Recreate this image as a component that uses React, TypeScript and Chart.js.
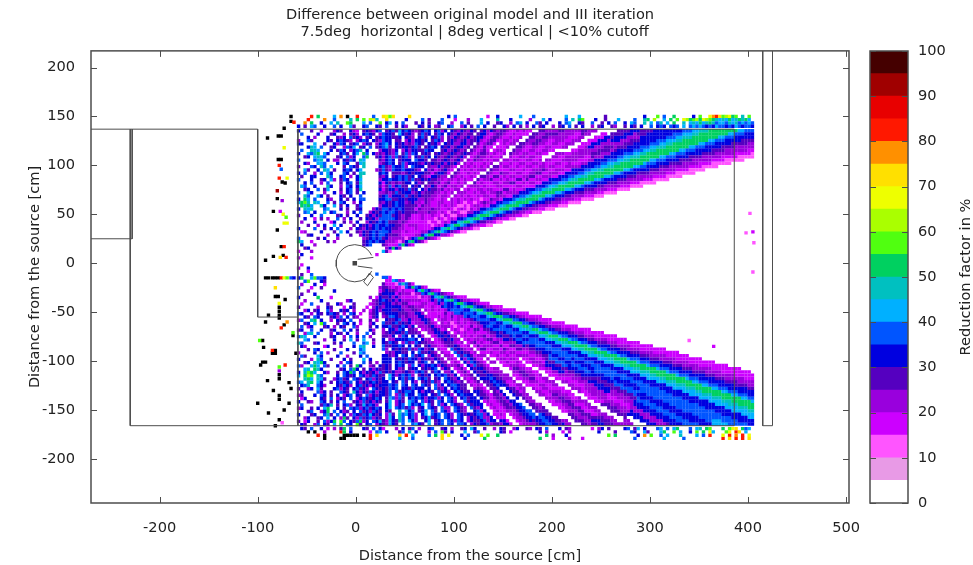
import React, { useEffect, useRef } from "react";
import { Chart, registerables } from "chart.js";

Chart.register(...registerables);

const FONT = "'DejaVu Sans', sans-serif";
const FONT_SIZE = 14.6;
const INK = "#222222";
const FRAME = "#4d4d4d";

// Reduction-factor bands, one letter per 5 % band, 5 % upward
const bandLetters = "abcdefghijklmnopqrs";
const bandColors = ["#e89ae6", "#ff55ff", "#cc00ff", "#9900dd", "#5500c0", "#0000e0", "#0055ff", "#00b0ff", "#00c0c0", "#00d060", "#50ff10", "#aaff00", "#eeff00", "#ffe000", "#ff9000", "#ff1800", "#e80000", "#a00000", "#450000"];
const overflowColor = "#000000"; // letter z
const colorbarTicks = [0, 10, 20, 30, 40, 50, 60, 70, 80, 90, 100];

// Clean beam bands: limits as |dy|/dx from each apex, and their letters
const upperApex = [15, 7];
const upperBeamLimits = [0.258, 0.272, 0.283, 0.3, 0.312, 0.328, 0.336, 0.344, 0.372, 0.382, 0.392, 0.405, 0.43];
const upperBeamLetters = "bcdefghjihgf";
const lowerApex = [15, -9];
const lowerBeamLimits = [0.262, 0.285, 0.3, 0.31, 0.325, 0.335, 0.34, 0.36, 0.37, 0.385, 0.405, 0.425];
const lowerBeamLetters = "cdefghjihfg";

// Fans around each apex: radius limits (cm) and one string per radius ring, one letter per degree from 23 deg
const fanRadii = [16, 32, 48, 64, 80, 96, 112, 128, 144, 160, 176, 200, 224, 248, 272, 300, 340, 380, 430];
const upperFan = [
  "cbccdcccdc dcdcddeded efefefefff fefgfgfgfg gfgfgffgfg fgfgfgfgfg",
  "cdcbccdcdc cdcdcdedcd dedededefe fefefgfefg fgfgfgfgfg gfgffgfgff fgdfgfefgf",
  "dcdcbcccdc cdcdcdcdcd dcdededede fefefgfefg fgfgfefegf fgfdfefgff f.fgdfefgf",
  "cdcbcdcbcc dcdcedcdcd dedcdedefe fefdefgfef gfefgdfefd fgeefdcfgf f.dfgfedgf",
  "cdcbcdbcdc cdcdcdcdcd cdedefedef .efdefe.gf efgefdgefe feg.dfedge fhf.efgefg",
  "cdbcdcbcdc dcd.cdcdcd edcdedefef cedef.fdfe fgf.fdfgfe e.gfdgeffd fgfdfh.egf",
  "dcdcbcdcdc cdc.dcdcdc de.cdefedf edefe.fefg e.efgfdefd f.efe.efhf g.efgh",
  "cdecdcdcdc dce.cdcdcd cd.dfedefe dfef.dfgef .fegfe.def egfh.egdfe f.gh",
  "cdcecdcdce cde.dcdcde dcde.edfed efdef.fdgf e.dfgfehfe dfe.fgfhef .e",
  "dcdcecdcdc dcd.dcdc.c edcdfe.efd ef.edfefdf egfe.fgdfe f.g",
  "cdcedcdcdc dcde.dcdcde def.edfefd efdfe",
  "cdcdcd.cdc dede.cdefd edfedfe",
  "dcddc.dcdd edfe.defed fefd",
  "dedfc.dedf efdefd",
  "edfe.cdefe fed",
  "fefefe",
  "fefe",
  "fe",
];
const lowerFan = [
  "cbcbcccdcd cddcdedede ededefefef fefefgfefe gfgfefdfef fgfdfgfefg",
  "cbcdccdcdc dcdecdcdef fededefefe fdefgfefgf efgfefdgfe dfegfdfefg",
  "dcdcbcdcdc dcdcdcefef edcdcdefef dedefgfefg fefgefegfe f.gfdfegfd",
  "dfdcecdcdc cdc.cdefef fdcdcd.cdf edefe.gfef gfdf.fefdf dge.eefgfe",
  "fgfdcecdcd dcd.dcdefe fdcd.d.def e.fegfd.ef g.efegf.ef fd.efdf.fd",
  "gfgdcdcdcb cdc.ddfefe edc.cd.dfe fde.egfdef .fgfde.feg dfd.fehf.e f.gf.fdfdf",
  "gfedcecdcd cdc.dcdefe g.cdcd.def d.fgfe.feg feg.dfg.ef gf.egf.gfe f.fgdf.hfe",
  "fgfedcedcd cec.dcefgd f.cedc.fde fgf.fdeg.e f.fdfg.fgf h.egfdg.he f.efd.fhef",
  "gfefdcecdc dc.d.cdefe f.edcd.eef gf.dfg.fdg .efg.hfe.d gfh.gi.efh d.ehf.egfc",
  "fgfdecdcdc dc..ddefgf e.cdef.ffe g.defg.dfg .gfe.hf.ef hg.ehfg.ig f.hfg.fdfe",
  "gfedcdc.cd edc.dcef.f dedcdc.fdg fefd.fg.fh g.hfe.gf.f ig.fgf.fef",
  "gfgefdc.dc dcd..de.gf edc.cfdefg",
  "fgfedcd.cd edc..efgfe dfg",
  "gfefddc.dc ede.dfg",
  "fgedcde.de fed",
  "gfgfdf.dfe",
  "gfgfeg",
  "hgjh",
];

// Speckled block left of the fans: columns of 3.33 cm from x = -60, rows of 3.33 cm
const leftTopY = 135.3;
const leftUpper = [
  "f...e..c...dfe..fdc.efedfg",
  ".g....f...ef..d.efd.fgfe.d",
  "...f.d...f..edf.gefd.ef.ef",
  "d..ge....fe.fgfed.dfgf.fed",
  "ff...h..e..fdgf.efg.dfe.df",
  "...fih.g..ef..dgfh.ef.g.ef",
  ".g..iih...f.egf.dfgi.f...d",
  "f..hgij.hf...fge.fh.jg.fde",
  "..ef.hihg...ef.gdf..gj..ef",
  "g....ghi.f.dd.fegf.ih....e",
  "..fd..hhg...f.gf..ehi....d",
  "e...gf.ig.h...e.gfe.i....f",
  "..he..f.ih.e..fgf.fh....de",
  "f.g..d.g.hf...gf.e.ii....f",
  ".e..ff...ig..fg.d.fi.....e",
  "g...f..ef.hd.egf..fh.....d",
  "..f.g..d.g...e.fg.ei.....f",
  ".hg..f...if..d.gf.fh.....e",
  "..ef..g.eh...e.fg.ei.....f",
  "g..hf...d..f.d.fg.e.f....d",
  "..ig..hf.e...fe.f..g.....e",
  "f.jh.g...fd..f.e.f.gg....f",
  "hjki.ih..g.e.gf..d.f.....e",
  ".jijh..if..h.e.f..eg.....d",
  "f.ihi...gh...f.e..ef...dfe",
  "..gh.f..h.fg...d.f.g..dfef",
  "e...f..g....ef.e..f..efdfe",
  "..f..c.e.d..g.d.f..e.fefdg",
  ".d...f....cf..e.d.f..dfefg",
  "...e..d.f..h.f...e.fefdfgf",
  "f....g..e.f.g...d.fedfefgf",
  ".cd....f...e.h.f..edfefgfg",
  "...ef....d..f...e..dfefgfg",
  "g.....e.f...d.......defgfg",
  "jh..c....e.d........efgfgf",
  ".f...d.............fefg....",
  "..ef...............fg.....",
  "c...d..............g......",
  ".f........................",
  "d...c.....................",
];
const leftBottomY = -1.7;
const leftLower = [
  ".c........................",
  "d..f......................",
  "...c......................",
  ".e..g.....................",
  "fj..hkggf.................",
  "..gk...fe.................",
  ".d...f..c.................",
  "g...c..e.................d",
  "...d.......f.............c",
  ".e...f...................e",
  "f.....j...c...........d.cf",
  "..d....f.......df......def",
  ".c..g....e..fd...e....cdef",
  "e.....d..fe...c.fe...c.dfe",
  "..df.ef..gd..fef.d..d.cefd",
  "gf..d.fe.fgfe.d.gf.c..def.",
  "..fe.gf...efdg.f.ed...cef.",
  "dg..ij.f..d.fef.g..d..e.d.",
  "..ef.h.kg...e.gf.f.c..df..",
  ".g.df...ef.d.fe..gd...e.f.",
  "ef..g..f..ef..g.f.e...fd..",
  "..dhi.g...d.fe.f..d..g.e..",
  "gih..f....ef..d.g.f.g.d...",
  "..hg....d..f..e.h.e.h..e..",
  "ig...ef....e.f...g..gh.d..",
  ".fd.....cf...d...f.hi..f..",
  "...e.gf....e...f...gh.....",
  "d....f.g.d...g...e.hg.....",
  ".ge...hf....f..d...f.g....",
  "f...d.ig..e...f.e...h.f...",
  "..ef.ihjf....d.gf...g.e.d.",
  "gd..hjh.ge..f.g.e.jf..de.f",
  "..hi.jif.....ef.gjf.e.fdfe",
  "f.ikjh..fd..e.gfjg.fdfefdg",
  "h.jlk.ig....f.gfef.gfdegfe",
  "..ijh.ihe..dfgef.gfe.fgdfe",
  "gh.ij.hf..e.fgfeg.fdfefgfe",
  ".fgi..gfd...fegfd.fgefdfef",
  "e..df.he...fgdfe.fgefd.gfe",
  ".f....gdf.e..gfe.ifdfegfdf",
  "de...f.gf.e.f.dfg.fe.gdfef",
  ".cf....fe.g.dfe.g.dfgfefgf",
  "f..ed..gf.e.f.g..efdgefdfe",
  ".g.....egfi.e.fgd.fehfgfd.",
  "df..e.f.hj..f.e.gfgdfgefgf",
  "...eg..dfj.g.fde.f.gefdgfe",
  "f...ef..gie.g.f.dgfegfhfef",
  "..df..ef.h.f.dje.fdgefgdfe",
  "e.cf..e.gdfj.kg.fegjdf.gfh",
  ".fe..dg.fe.h.j.gf.ke.fg.df",
];

// Sparse strips outside the main block; columns of 3.33 cm from x = -60
const topStripY = [150, 146.7, 143.3, 140];
const topStrip = [
  "....p.j... .h.o.z..p. ...g..nmkn ....n..... ......f.g. ........c. .f......h. ..g....... ..h...h... ....e..... ......f... k.g..j.... .f.k..mopn klmjk.i.k.",
  "...p....o. .g....i.j. k.lmi..n.. ...f....g. e...g...c. ..d...h... .i...f.... .d...h.f.. ..g.i.jk.. .f..e...h. ...g..ij.l ..h.j.k.ml jkljmlkjih ihjhijijh.",
  "..o.j..f.. h.i..kj... h.g..k.fh. f.g...e.f. e..fg..d.. g.e...h.f. .ef..d.gh. f..ge.f... f.gh..fe.. g..e.f.g.. f.hg..i.h. gi.h.j..i. hihjhijigh hgihighghg",
  "f.e.hg..f. .g.f..he.. fg..fe.g.. e.fd...fe. f.de..fg.. df.e.g.f.. e..fd.f.e. d.f.ef..d. ef.g.e.f.. d.ef..ed.. e.fe.f..g. fgf.gfg.h. ghghgfgfhg gfgfhgfggf",
];
const bottomStripY = [-169, -172.3, -175.7, -179];
const bottomStrip = [
  ".fe.g..f.c .d.ej.g... fe.g.fc... d.f.eg.d.. fg..ef.d.. ef.hf..e.. d.fe..df.. ed.fe.g... f.ed...... c.df.e.... fg.eh.f... gh.g.hj... g.hi.jk... j.kmn.jgh.",
  "...z.z..d. ...pj.f... ..c.gh.f.. .eg.i.f... d.g.ke.f.. .h..eg.... ..fe.c.... ....f.d... .c.d...... ..f....e.. ..gf..he.. .hj..k.h.. f.k.j.mh.. .km.pn.h..",
  "......p.z. ....zzzzz. z.p.n..... .n.p.h.... g.j.n.m... f.g...m.k. .j........ ......j.d. ..f....... .....k.j.. ....f.o.k. .g.h...i.. ..h.g.p... m.p.o.p.m.",
  "........z. ...zz..... ..p....... .h...g.... ....n..... .f.....j.. .......... ....j...c. ...d...c.. .......... ...g...... ..h.....g. .......... p.n.p.p.n.",
];

// Single stray cells (cm)
const strayX = [-66, -66, -63, -73, -90, -76, -79, -73, -76, -79, -78, -76, -78, -75, -72, -70, -80, -80, -75, -84, -77, -74, -71, -73, -70, -80, -76, -73, -92, -84, -74, -71, -77, -92, -89, -85, -82, -79, -76, -73, -70, -66, -63, -82, -82, -79, -72, -78, -78, -78, -78, -78, -89, -92, -73, -70, -76, -64, -64, -98, -95, -94, -85, -82, -85, -82, -61, -95, -92, -97, -72, -78, -78, -78, -78, -90, -68, -84, -66, -78, -78, -100, -68, -73, -89, -82, -78, -75, 402, 398, 405, 406, 405, 340, 365, 405];
const strayY = [150, 145, 144, 138, 128, 130, 130, 118, 106, 106, 100, 96, 87, 83, 82, 87, 74, 66, 64, 53, 53, 50, 47, 41, 41, 34, 17, 17, 3, 7, 8, 6, 6, -15, -15, -15, -15, -15, -15, -15, -15, -15, -15, -25, -34, -34, -37, -41, -45, -49, -53, -56, -53, -60, -63, -60, -66, -71, -74, -79, -79, -86, -89, -92, -92, -89, -92, -101, -101, -104, -104, -106, -110, -114, -118, -120, -122, -130, -128, -135, -139, -143, -143, -150, -153, -166, -160, -163, 51, 31, 32, 21, -9, -79, -85, -55];
const strayLetters = "zzpzzzzmzzpgpzzmrzdzcmkmmzzpzzzpnzzzzzpmkgfnzzzmzzzzzzzopkzkzzpzzzzzzzpkdzzzzzzzzzzzzzzbbbcbbbc";

// Outlines of the set-up (cm)
const wallBox = [[-270, 137], [-228, 137], [-228, 25], [-270, 25]];
const wallLong = [[-230, 137], [-230, -166], [386, -166], [386, 137], [-59, 137], [-59, -166]];
const wallStep = [[-228, 137], [-100, 137], [-100, -55], [-59, -55]];
const wallRight = [[415, 217], [415, -166], [425, -166], [425, 217]];
const shieldArc = [[16.2, 8], [13.6, 12.2], [9.9, 15.6], [5.5, 17.9], [-1, 19], [-7.5, 17.9], [-11.9, 15.6], [-15.6, 12.2], [-18.2, 8], [-19.7, 3.3], [-20, 0], [-19.7, -3.3], [-18.2, -8], [-15.6, -12.2], [-11.9, -15.6], [-7.5, -17.9], [-1, -19], [5.5, -17.9], [9.9, -15.6], [13.6, -12.2], [16.2, -8]];
const wedgeUpper = [[2, 4], [18, 6]];
const wedgeLower = [[2, -3], [17, -5]];
const smallBlock = [[8, -19], [12, -23], [18, -14.5], [14, -10], [8, -19]];
const sourcePoint = [[-1, 0]];

const xAxisTitle = "Distance from the source [cm]";
const yAxisTitle = "Distance from the source [cm]";
const titleLines = ["Difference between original model and III iteration", "  7.5deg  horizontal | 8deg vertical | <10% cutoff"];

const CELL = 3.33;
const clean = (rows: string[]) => rows.map((r) => r.replace(/ /g, ""));

function beamLetter(slope: number, limits: number[], letters: string) {
  for (let i = 0; i < letters.length; i++) {
    if (slope >= limits[i] && slope < limits[i + 1]) return letters[i];
  }
  return ".";
}

function buildCells() {
  const byBand: Record<string, { x: number; y: number }[]> = {};
  const put = (c: string | undefined, x: number, y: number) => {
    if (!c || c === ".") return;
    (byBand[c] = byBand[c] || []).push({ x, y });
  };
  const up = clean(upperFan);
  const low = clean(lowerFan);
  for (let j = 0; j < 92; j++) {
    const y = -166 + CELL * j + CELL / 2;
    if (y > 137) continue;
    for (let i = 0; i < 140; i++) {
      const x = -60 + CELL * i + CELL / 2;
      if (Math.hypot(x + 1, y) < 19 && x < 16) continue;
      const upper = y > -1;
      const apex = upper ? upperApex : lowerApex;
      const dx = x - apex[0];
      const dy = Math.abs(y - apex[1]);
      if ((upper && y < apex[1]) || (!upper && y > apex[1])) continue;
      const r = Math.hypot(dx, dy);
      const slope = dx > 0 ? dy / dx : 99;
      const limits = upper ? upperBeamLimits : lowerBeamLimits;
      const letters = upper ? upperBeamLetters : lowerBeamLetters;
      if (slope < limits[limits.length - 1]) {
        put(beamLetter(slope, limits, letters), x, y);
        continue;
      }
      if (i < 26) continue;
      const angle = (Math.atan2(dy, dx) * 180) / Math.PI;
      let ring = -1;
      for (let k = 0; k < fanRadii.length - 1; k++) {
        if (r >= fanRadii[k] && r < fanRadii[k + 1]) ring = k;
      }
      if (ring < 0) continue;
      const row = (upper ? up : low)[ring];
      if (row) put(row[Math.floor(angle - 23)], x, y);
    }
  }
  const block = (rows: string[], firstY: number) =>
    rows.forEach((row, k) => {
      const y = firstY - CELL * k;
      for (let i = 0; i < row.length; i++) {
        const x = -60 + CELL * i + CELL / 2;
        if (Math.hypot(x + 1, y) >= 20) put(row[i], x, y);
      }
    });
  block(leftUpper, leftTopY);
  block(leftLower, leftBottomY);
  clean(topStrip).forEach((row, k) => {
    for (let i = 0; i < row.length; i++) put(row[i], -60 + CELL * i + CELL / 2, topStripY[k]);
  });
  clean(bottomStrip).forEach((row, k) => {
    for (let i = 0; i < row.length; i++) put(row[i], -60 + CELL * i + CELL / 2, bottomStripY[k]);
  });
  strayX.forEach((x, i) => put(strayLetters[i], x, strayY[i]));
  return byBand;
}

const asPoints = (pts: number[][]) => pts.map(([x, y]) => ({ x, y }));

const framePlugin = {
  id: "frame",
  afterDatasetsDraw(chart: any) {
    const { ctx, chartArea: a, scales } = chart;
    ctx.save();
    ctx.strokeStyle = FRAME;
    ctx.lineWidth = 1;
    ctx.beginPath();
    if (scales.x && scales.x.options.display !== false) {
      scales.x.ticks.forEach((t: any) => {
        const p = Math.round(scales.x.getPixelForValue(t.value)) + 0.5;
        ctx.moveTo(p, a.bottom);
        ctx.lineTo(p, a.bottom - 6);
        ctx.moveTo(p, a.top);
        ctx.lineTo(p, a.top + 6);
      });
    }
    scales.y.ticks.forEach((t: any) => {
      const p = Math.round(scales.y.getPixelForValue(t.value)) + 0.5;
      ctx.moveTo(a.left, p);
      ctx.lineTo(a.left + 6, p);
      ctx.moveTo(a.right, p);
      ctx.lineTo(a.right - 6, p);
    });
    ctx.stroke();
    ctx.lineWidth = 1.5;
    ctx.strokeRect(a.left, a.top, a.right - a.left, a.bottom - a.top);
    ctx.restore();
  },
};

const colorbarTitlePlugin = {
  id: "colorbarTitle",
  afterDraw(chart: any) {
    const { ctx, chartArea: a } = chart;
    ctx.save();
    ctx.translate(106, (a.top + a.bottom) / 2);
    ctx.rotate(-Math.PI / 2);
    ctx.font = `${FONT_SIZE}px ${FONT}`;
    ctx.fillStyle = INK;
    ctx.textAlign = "center";
    ctx.textBaseline = "middle";
    ctx.fillText("Reduction factor in %", 0, 0);
    ctx.restore();
  },
};

export default function App() {
  const mainRef = useRef<HTMLCanvasElement>(null);
  const barRef = useRef<HTMLCanvasElement>(null);

  useEffect(() => {
    const cells = buildCells();
    const cellSets: any[] = [...bandLetters, "z"].map((c, i) => ({
      type: "scatter",
      data: cells[c] || [],
      backgroundColor: c === "z" ? overflowColor : bandColors[i],
      pointStyle: "rect",
      pointRadius: 2.4,
      pointBorderWidth: 0,
      order: 2,
    }));
    const line = (pts: number[][], width = 1) => ({
      type: "scatter",
      data: asPoints(pts),
      showLine: true,
      tension: 0,
      borderColor: FRAME,
      borderWidth: width,
      pointRadius: 0,
      order: 1,
    });
    const main = new Chart(mainRef.current!, {
      type: "scatter",
      data: {
        datasets: [
          ...cellSets,
          line(wallBox),
          line(wallLong),
          line(wallStep),
          line(wallRight),
          line(shieldArc),
          line(wedgeUpper),
          line(wedgeLower),
          line(smallBlock),
          { type: "scatter", data: asPoints(sourcePoint), backgroundColor: "#444444", pointStyle: "rect", pointRadius: 3.2, pointBorderWidth: 0, order: 0 },
        ],
      } as any,
      options: {
        responsive: false,
        animation: false,
        layout: { padding: { left: 0, right: 124, top: 0, bottom: 0 } },
        plugins: {
          legend: { display: false },
          tooltip: { enabled: false },
          title: {
            display: true,
            fullSize: false,
            text: titleLines,
            color: INK,
            font: { family: FONT, size: FONT_SIZE, weight: "normal", lineHeight: 1.16 },
            padding: { top: 7, bottom: 10 },
          },
        },
        scales: {
          x: {
            type: "linear",
            min: -270,
            max: 503,
            afterFit: (s: any) => {
              s.height = 62;
            },
            border: { display: false },
            grid: { display: false },
            ticks: { stepSize: 100, includeBounds: false, padding: 8, color: INK, font: { family: FONT, size: FONT_SIZE }, maxRotation: 0 },
            title: { display: true, text: xAxisTitle, color: INK, font: { family: FONT, size: FONT_SIZE }, padding: { top: 2, bottom: 0 } },
          },
          y: {
            type: "linear",
            min: -245,
            max: 217,
            afterFit: (s: any) => {
              s.width = 91;
            },
            border: { display: false },
            grid: { display: false },
            ticks: { stepSize: 50, includeBounds: false, padding: 8, color: INK, font: { family: FONT, size: FONT_SIZE } },
            title: { display: true, text: yAxisTitle, color: INK, font: { family: FONT, size: FONT_SIZE }, padding: { top: 26, bottom: 0 } },
          },
        },
      } as any,
      plugins: [framePlugin],
    });

    const bands = ["#ffffff", ...bandColors];
    const bar = new Chart(barRef.current!, {
      type: "bar",
      data: {
        labels: [""],
        datasets: bands.map((c) => ({ data: [5], backgroundColor: c, stack: "scale", barPercentage: 1, categoryPercentage: 1, borderWidth: 0 })),
      },
      options: {
        responsive: false,
        animation: false,
        layout: { padding: { left: 10, right: 0, top: 51, bottom: 62 } },
        plugins: { legend: { display: false }, tooltip: { enabled: false } },
        scales: {
          x: { display: false, stacked: true },
          y: {
            type: "linear",
            position: "right",
            stacked: true,
            min: colorbarTicks[0],
            max: colorbarTicks[colorbarTicks.length - 1],
            afterFit: (s: any) => {
              s.width = 65;
            },
            border: { display: false },
            grid: { display: false },
            ticks: { stepSize: 10, padding: 2, color: INK, font: { family: FONT, size: FONT_SIZE } },
          },
        },
      } as any,
      plugins: [framePlugin, colorbarTitlePlugin],
    });

    return () => {
      main.destroy();
      bar.destroy();
    };
  }, []);

  return (
    <div>
      <canvas ref={mainRef} width={973} height={565} style={{ position: "absolute", left: 0, top: 0 }} />
      <canvas ref={barRef} width={113} height={565} style={{ position: "absolute", left: 860, top: 0 }} />
    </div>
  );
}
